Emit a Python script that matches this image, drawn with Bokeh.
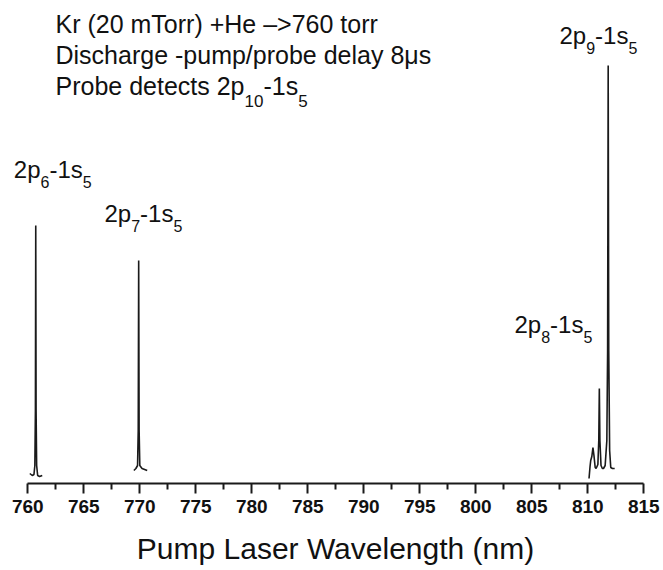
from bokeh.plotting import figure
from bokeh.models import Range1d, FixedTicker, Label
from bokeh.embed import file_html
from bokeh.resources import INLINE

# ---- data ----
tick_values = [760, 765, 770, 775, 780, 785, 790, 795, 800, 805, 810, 815]
minor_values = [762.5, 767.5, 772.5, 777.5, 782.5, 787.5, 792.5, 797.5, 802.5, 807.5, 812.5]

# 2p6-1s5 region
seg1_nm = [760.18, 760.40, 760.55, 760.63, 760.68, 760.71, 760.74, 760.79, 760.88, 761.05, 761.29]
seg1_int = [-0.03, -0.05, -0.04, 0.05, 0.60, 2.45, 0.60, 0.05, -0.05, -0.06, -0.05]

# 2p7-1s5 region
seg2_nm = [769.47, 769.65, 769.80, 769.86, 769.90, 769.94, 770.00, 770.20, 770.66]
seg2_int = [0.00, 0.02, 0.05, 0.40, 2.10, 0.40, 0.05, 0.02, 0.00]

# 2p8 / 2p9 region
seg3_nm = [810.11, 810.20, 810.26, 810.36, 810.46, 810.55, 810.66, 810.74, 810.90, 810.98,
           811.03, 811.08, 811.18, 811.30, 811.40, 811.55, 811.70, 811.77, 811.82, 811.87,
           811.95, 812.05, 812.20, 812.40]
seg3_int = [-0.08, 0.04, 0.10, 0.14, 0.23, 0.15, 0.03, 0.02, 0.06, 0.30,
            0.82, 0.30, 0.05, 0.02, 0.02, 0.05, 0.30, 1.20, 4.05, 1.20,
            0.20, 0.03, 0.02, 0.02]

title_lines = ["Kr (20 mTorr) +He \u2013>760 torr",
               "Discharge -pump/probe delay 8\u03bcs"]
axis_title = "Pump Laser Wavelength (nm)"

# ---- layout helpers (canvas pixel -> data) ----
W, H = 663, 570
PX_PER_NM = 11.2
X0_PX = 27.3      # canvas x of 760 nm
BASE_PX = 470.0   # canvas y of zero signal
PX_PER_UNIT = 100.0

def ix(px):
    return 760 + (px - X0_PX) / PX_PER_NM

def iy(py):
    return (BASE_PX - py) / PX_PER_UNIT

p = figure(width=W, height=H, output_backend="svg", toolbar_location=None,
           x_range=Range1d(ix(0), ix(W)), y_range=Range1d(iy(H), iy(0)),
           y_axis_location=None,
           min_border_left=0, min_border_right=0, min_border_top=0, min_border_bottom=0)
p.xgrid.visible = False
p.ygrid.visible = False
p.outline_line_color = None
p.background_fill_color = "white"
p.border_fill_color = "white"

ax = p.xaxis[0]
ax.fixed_location = iy(483)
ax.bounds = (tick_values[0], tick_values[-1])
ax.ticker = FixedTicker(ticks=tick_values, minor_ticks=minor_values)
ax.axis_line_width = 2
ax.axis_line_color = "#1a1a1a"
ax.major_tick_line_width = 2
ax.minor_tick_line_width = 2
ax.major_tick_line_color = "#1a1a1a"
ax.minor_tick_line_color = "#1a1a1a"
ax.major_tick_out = 10
ax.major_tick_in = 0
ax.minor_tick_out = 6
ax.minor_tick_in = 0
ax.major_label_text_font = "Liberation Sans"
ax.major_label_text_font_size = "19px"
ax.major_label_text_font_style = "bold"
ax.major_label_text_color = "#111111"
ax.major_label_standoff = 6

for xs, ys in [(seg1_nm, seg1_int), (seg2_nm, seg2_int), (seg3_nm, seg3_int)]:
    p.line(xs, ys, line_color="#1a1a1a", line_width=1.6)

ARIAL = {'P': .667, 'r': .333, 'o': .556, 'b': .556, 'e': .556, ' ': .278, 'd': .556,
         't': .278, 'c': .5, 's': .5, 'p': .556, '-': .333}

def tw(s, size):
    return sum(ARIAL.get(ch, .556) for ch in s) * size

FONT = "Liberation Sans"
COL = "#111111"
BASELINE_FIX = 0.33   # empirical: rendered alphabetic baseline sits this many em lower

def add_text(txt, px, py, size, align="left"):
    p.add_layout(Label(x=ix(px), y=iy(py - BASELINE_FIX * size), text=txt, text_font=FONT,
                       text_font_size=f"{size}px", text_color=COL,
                       text_align=align, text_baseline="alphabetic"))

def rich(parts, px, py, size, sub_size, sub_drop=10):
    x = px
    for txt, is_sub in parts:
        s = sub_size if is_sub else size
        add_text(txt, x, py + (sub_drop if is_sub else 0), s)
        x += tw(txt, s)

# title block
add_text(title_lines[0], 55, 32, 25)
add_text(title_lines[1], 55, 63, 25)
rich([("Probe detects 2p", False), ("10", True), ("-1s", False), ("5", True)], 55, 94, 25, 17, 12)

# peak labels
rich([("2p", False), ("6", True), ("-1s", False), ("5", True)], 13.3, 176.7, 24, 16)
rich([("2p", False), ("7", True), ("-1s", False), ("5", True)], 104, 221, 24, 16)
rich([("2p", False), ("8", True), ("-1s", False), ("5", True)], 514, 331.7, 24, 16)
rich([("2p", False), ("9", True), ("-1s", False), ("5", True)], 559, 43, 24, 16)

# axis title
add_text(axis_title, 335, 558, 30, align="center")

open("out.html", "w").write(file_html(p, INLINE))
